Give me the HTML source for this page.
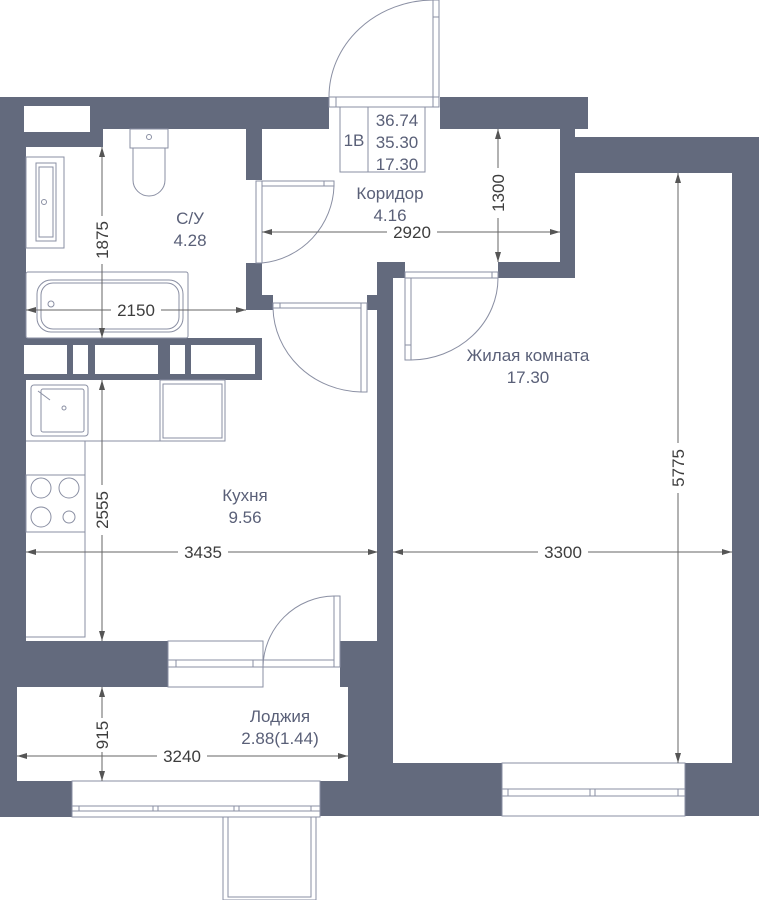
<!DOCTYPE html>
<html><head><meta charset="utf-8"><style>
html,body{margin:0;padding:0;background:#fff;}
svg{display:block;}
.w{fill:#636a7d;}
.t{font-family:"Liberation Sans",sans-serif;font-size:17px;fill:#5a6078;text-anchor:middle;}
.d{font-family:"Liberation Sans",sans-serif;font-size:17px;fill:#3d3d3d;text-anchor:middle;}
.l{stroke:#8a8fa3;stroke-width:1;fill:none;}
.f{stroke:#8a8fa3;stroke-width:1;fill:#fff;}
.dm{stroke:#666;stroke-width:1;fill:none;}
</style></head><body>
<svg width="759" height="900" viewBox="0 0 759 900" xmlns="http://www.w3.org/2000/svg">
<defs>
<marker id="a" viewBox="0 0 10 6" refX="10" refY="3" markerWidth="10" markerHeight="6" orient="auto-start-reverse" markerUnits="userSpaceOnUse"><path d="M0,0 L10,3 L0,6 z" fill="#555"/></marker>
</defs>
<!-- walls -->
<rect class="w" x="0" y="97" width="329" height="32"/>
<rect class="w" x="0" y="97" width="26" height="590"/>
<rect class="w" x="26" y="129" width="77" height="18"/>
<rect class="w" x="246" y="129" width="16" height="51"/>
<rect class="w" x="246" y="263" width="16" height="47"/>
<rect class="w" x="246" y="295" width="27" height="15"/>
<rect class="w" x="0" y="338" width="262" height="42"/>
<rect class="w" x="440" y="97" width="148" height="32"/>
<rect class="w" x="560" y="129" width="15" height="149"/>
<rect class="w" x="560" y="137" width="199" height="36"/>
<rect class="w" x="732" y="137" width="27" height="679"/>
<rect class="w" x="498" y="262" width="77" height="16"/>
<rect class="w" x="367" y="295" width="26" height="15"/>
<rect class="w" x="377" y="262" width="28" height="16"/>
<rect class="w" x="377" y="262" width="16" height="379"/>
<rect class="w" x="0" y="641" width="168" height="46"/>
<rect class="w" x="340" y="641" width="53" height="46"/>
<rect class="w" x="348" y="641" width="45" height="175"/>
<rect class="w" x="0" y="687" width="17" height="130"/>
<rect class="w" x="0" y="781" width="72" height="36"/>
<rect class="w" x="320" y="781" width="182" height="35"/>
<rect class="w" x="348" y="763" width="154" height="53"/>
<rect class="w" x="685" y="763" width="74" height="53"/>
<!-- slots -->
<rect x="24" y="106" width="66" height="26" fill="#fff"/>
<rect x="24" y="345" width="43" height="29" fill="#fff"/>
<rect x="73" y="345" width="15" height="29" fill="#fff"/>
<rect x="95" y="345" width="63" height="29" fill="#fff"/>
<rect x="170" y="345" width="15" height="29" fill="#fff"/>
<rect x="191" y="345" width="64" height="29" fill="#fff"/>
<!-- windows -->
<rect class="f" x="502" y="763" width="183" height="53"/>
<line class="l" x1="502" y1="789" x2="685" y2="789"/><line class="l" x1="502" y1="796" x2="685" y2="796"/>
<line class="l" x1="508" y1="789" x2="508" y2="796"/><line class="l" x1="590" y1="789" x2="590" y2="796"/><line class="l" x1="595" y1="789" x2="595" y2="796"/><line class="l" x1="678" y1="789" x2="678" y2="796"/>
<rect class="f" x="72" y="781" width="248" height="36"/>
<line class="l" x1="72" y1="806" x2="320" y2="806"/><line class="l" x1="72" y1="811" x2="320" y2="811"/>
<line class="l" x1="79" y1="806" x2="79" y2="811"/><line class="l" x1="153" y1="806" x2="153" y2="811"/><line class="l" x1="158" y1="806" x2="158" y2="811"/><line class="l" x1="234" y1="806" x2="234" y2="811"/><line class="l" x1="239" y1="806" x2="239" y2="811"/><line class="l" x1="311" y1="806" x2="311" y2="811"/>
<rect class="f" x="223" y="817" width="93" height="83"/>
<rect class="l" x="228" y="817" width="83" height="80"/>
<!-- balcony door -->
<rect class="f" x="168" y="641" width="95" height="46"/>
<line class="l" x1="168" y1="660" x2="340" y2="660"/><line class="l" x1="168" y1="667" x2="340" y2="667"/>
<line class="l" x1="176" y1="660" x2="176" y2="667"/><line class="l" x1="253" y1="660" x2="253" y2="667"/>
<rect class="f" x="334" y="596" width="6" height="71"/>
<path class="l" d="M334,596 A72,72 0 0 0 263,667 L263,687"/>
<!-- entry door -->
<rect class="f" x="329" y="97" width="110" height="10"/>
<line class="l" x1="336" y1="97" x2="336" y2="107"/><line class="l" x1="433" y1="97" x2="433" y2="107"/>
<rect class="f" x="433" y="0" width="6" height="97"/>
<line class="l" x1="433" y1="17" x2="439" y2="17"/>
<path class="l" d="M329,97 A105,97 0 0 1 433,0"/>
<!-- info box -->
<rect class="l" x="340" y="107" width="85" height="65"/>
<line class="l" x1="368" y1="107" x2="368" y2="172"/>
<text class="t" x="354" y="146">1В</text>
<text class="t" x="397" y="126">36.74</text>
<text class="t" x="397" y="148">35.30</text>
<text class="t" x="397" y="170">17.30</text>
<!-- bathroom door -->
<rect class="f" x="256" y="181" width="6" height="82"/>
<rect class="f" x="262" y="181" width="72" height="5"/>
<line class="l" x1="324" y1="181" x2="324" y2="186"/>
<path class="l" d="M334,186 A80,80 0 0 1 262,263"/>
<!-- kitchen door -->
<rect class="f" x="273" y="303" width="94" height="5"/>
<line class="l" x1="280" y1="303" x2="280" y2="308"/>
<rect class="f" x="361" y="303" width="6" height="89"/>
<path class="l" d="M273,308 A90,86 0 0 0 361,392"/>
<!-- living door -->
<rect class="f" x="405" y="272" width="93" height="6"/>
<line class="l" x1="492" y1="272" x2="492" y2="278"/>
<rect class="f" x="405" y="278" width="6" height="82"/>
<line class="l" x1="405" y1="345" x2="411" y2="345"/>
<path class="l" d="M498,278 A88,82 0 0 1 411,360"/>
<!-- bathroom fixtures -->
<rect class="l" x="130" y="129" width="38" height="19"/>
<circle class="l" cx="149" cy="137" r="2.5"/>
<path class="l" d="M133,148 L133,180 A16,16 0 0 0 165,180 L165,148"/>
<rect class="l" x="26" y="157" width="38" height="91"/>
<rect class="l" x="36" y="163" width="20" height="78"/>
<rect class="l" x="39" y="167" width="14" height="70"/>
<circle class="l" cx="44" cy="202" r="2.5"/>
<rect class="l" x="26" y="272" width="162" height="66" rx="2"/>
<rect class="l" x="37" y="280" width="146" height="52" rx="14"/>
<rect class="l" x="41" y="283" width="138" height="46" rx="12"/>
<circle class="l" cx="51" cy="304" r="3"/>
<!-- kitchen fixtures -->
<rect class="l" x="31" y="385" width="57" height="51" rx="3"/>
<rect class="l" x="41" y="389" width="43" height="43" rx="2"/>
<line class="l" x1="38" y1="391" x2="50" y2="400"/>
<circle class="l" cx="64" cy="408" r="2"/>
<rect class="l" x="160" y="380" width="65" height="61"/>
<rect class="l" x="163" y="384" width="59" height="54"/>
<polyline class="l" points="26,441 85,441 85,637 26,637"/>
<line class="l" x1="85" y1="441" x2="225" y2="441"/>
<rect class="l" x="26" y="475" width="59" height="57"/>
<circle class="l" cx="41" cy="488" r="10"/><circle class="l" cx="69" cy="488" r="10"/>
<circle class="l" cx="41" cy="517" r="10"/><circle class="l" cx="69" cy="517" r="6"/>
<!-- dimensions -->
<line class="dm" x1="102" y1="147" x2="102" y2="338" marker-start="url(#a)" marker-end="url(#a)"/>
<rect x="92" y="216" width="20" height="48" fill="#fff"/>
<text class="d" transform="translate(108,240) rotate(-90)">1875</text>
<line class="dm" x1="26" y1="310" x2="246" y2="310" marker-start="url(#a)" marker-end="url(#a)"/>
<rect x="111" y="300" width="50" height="20" fill="#fff"/>
<text class="d" x="136" y="316">2150</text>
<line class="dm" x1="262" y1="232" x2="560" y2="232" marker-start="url(#a)" marker-end="url(#a)"/>
<rect x="387" y="222" width="50" height="20" fill="#fff"/>
<text class="d" x="412" y="238">2920</text>
<line class="dm" x1="498" y1="129" x2="498" y2="262" marker-start="url(#a)" marker-end="url(#a)"/>
<rect x="488" y="168" width="20" height="50" fill="#fff"/>
<text class="d" transform="translate(504,193) rotate(-90)">1300</text>
<line class="dm" x1="26" y1="552" x2="378" y2="552" marker-start="url(#a)" marker-end="url(#a)"/>
<rect x="178" y="542" width="50" height="20" fill="#fff"/>
<text class="d" x="203" y="558">3435</text>
<line class="dm" x1="102" y1="380" x2="102" y2="641" marker-start="url(#a)" marker-end="url(#a)"/>
<rect x="92" y="485" width="20" height="50" fill="#fff"/>
<text class="d" transform="translate(108,510) rotate(-90)">2555</text>
<line class="dm" x1="393" y1="552" x2="732" y2="552" marker-start="url(#a)" marker-end="url(#a)"/>
<rect x="538" y="542" width="50" height="20" fill="#fff"/>
<text class="d" x="563" y="558">3300</text>
<line class="dm" x1="678" y1="173" x2="678" y2="763" marker-start="url(#a)" marker-end="url(#a)"/>
<rect x="668" y="443" width="20" height="50" fill="#fff"/>
<text class="d" transform="translate(684,468) rotate(-90)">5775</text>
<line class="dm" x1="17" y1="756" x2="348" y2="756" marker-start="url(#a)" marker-end="url(#a)"/>
<rect x="157" y="746" width="50" height="20" fill="#fff"/>
<text class="d" x="182" y="762">3240</text>
<line class="dm" x1="102" y1="687" x2="102" y2="781" marker-start="url(#a)" marker-end="url(#a)"/>
<rect x="92" y="718" width="20" height="34" fill="#fff"/>
<text class="d" transform="translate(108,735) rotate(-90)">915</text>
<!-- room labels -->
<text class="t" x="190" y="224">С/У</text><text class="t" x="190" y="246">4.28</text>
<text class="t" x="390" y="199">Коридор</text><text class="t" x="390" y="221">4.16</text>
<text class="t" x="528" y="361">Жилая комната</text><text class="t" x="528" y="383">17.30</text>
<text class="t" x="245" y="501">Кухня</text><text class="t" x="245" y="523">9.56</text>
<text class="t" x="280" y="722">Лоджия</text><text class="t" x="280" y="744">2.88(1.44)</text>
</svg>
</body></html>
